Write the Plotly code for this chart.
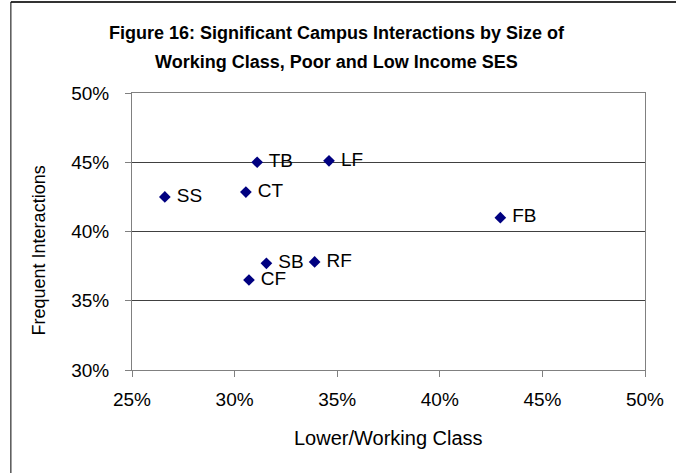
import plotly.graph_objects as go

# campus codes and values (fractions)
campus = ['SS', 'CT', 'TB', 'LF', 'SB', 'RF', 'CF', 'FB']
lower_working = [0.266, 0.3055, 0.311, 0.346, 0.3155, 0.339, 0.307, 0.4295]
frequent_interactions = [0.425, 0.4285, 0.450, 0.451, 0.377, 0.378, 0.365, 0.410]

x_ticks = [0.25, 0.30, 0.35, 0.40, 0.45, 0.50]
y_ticks = [0.30, 0.35, 0.40, 0.45, 0.50]

title_lines = ['Figure 16: Significant Campus Interactions by Size of',
               'Working Class, Poor and Low Income SES']

W, H = 676, 473
L, R, T, B = 132, 23, 93, 103
PW, PH = W - L - R, H - T - B

FONT = 'Liberation Sans, Arial, sans-serif'


def px_x(p):
    return (p - L) / PW


def px_y(p):
    return (H - B - p) / PH


fig = go.Figure()
fig.add_trace(go.Scatter(
    x=lower_working, y=frequent_interactions,
    mode='markers+text',
    text=[' ' + c for c in campus],
    textposition='middle right',
    textfont=dict(family=FONT, size=19, color='black'),
    marker=dict(symbol='diamond', size=9, color='#000080'),
    hoverinfo='x+y+text',
    showlegend=False,
))

annotations = []
for line, ypx in zip(title_lines, [33, 62]):
    annotations.append(dict(
        text='<b>' + line + '</b>', xref='paper', yref='paper',
        x=px_x(340), y=px_y(ypx), xanchor='center', yanchor='middle',
        showarrow=False, font=dict(size=18, family=FONT)))
annotations.append(dict(
    text='Lower/Working Class', xref='paper', yref='paper',
    x=px_x(392), y=px_y(438), xanchor='center', yanchor='middle',
    showarrow=False, font=dict(size=20, family=FONT)))
annotations.append(dict(
    text='Frequent Interactions', textangle=-90, xref='paper', yref='paper',
    x=px_x(38), y=px_y(250), xanchor='center', yanchor='middle',
    showarrow=False, font=dict(size=18, family=FONT)))

fig.update_layout(
    width=W, height=H,
    margin=dict(l=L, r=R, t=T, b=B),
    paper_bgcolor='white', plot_bgcolor='white',
    font=dict(family=FONT, color='black'),
    xaxis=dict(
        range=[0.25, 0.50], tickvals=x_ticks, tickformat='.0%',
        showgrid=False, zeroline=False,
        showline=True, linecolor='#808080', linewidth=1, mirror=True,
        ticks='outside', ticklen=6, tickcolor='#808080',
        tickfont=dict(size=19), ticklabelstandoff=6,
    ),
    yaxis=dict(
        range=[0.30, 0.50], tickvals=y_ticks, tickformat='.0%',
        showgrid=True, gridcolor='#404040', gridwidth=1, zeroline=False,
        showline=True, linecolor='#808080', linewidth=1, mirror=True,
        ticks='outside', ticklen=6, tickcolor='#808080',
        tickfont=dict(size=19), ticklabelstandoff=12,
    ),
    annotations=annotations,
    shapes=[
        # outer chart border (only top and left are in view)
        dict(type='line', xref='paper', yref='paper',
             x0=px_x(9), x1=px_x(W + 20), y0=px_y(2), y1=px_y(2),
             line=dict(color='#333333', width=2)),
        dict(type='line', xref='paper', yref='paper',
             x0=px_x(9), x1=px_x(9), y0=px_y(2), y1=px_y(H + 20),
             line=dict(color='black', width=1)),
    ],
)

fig.write_html('out.html',
               config={'displayModeBar': False},
               post_script="document.body.style.margin='0';"
                           "document.body.style.overflow='hidden';")
